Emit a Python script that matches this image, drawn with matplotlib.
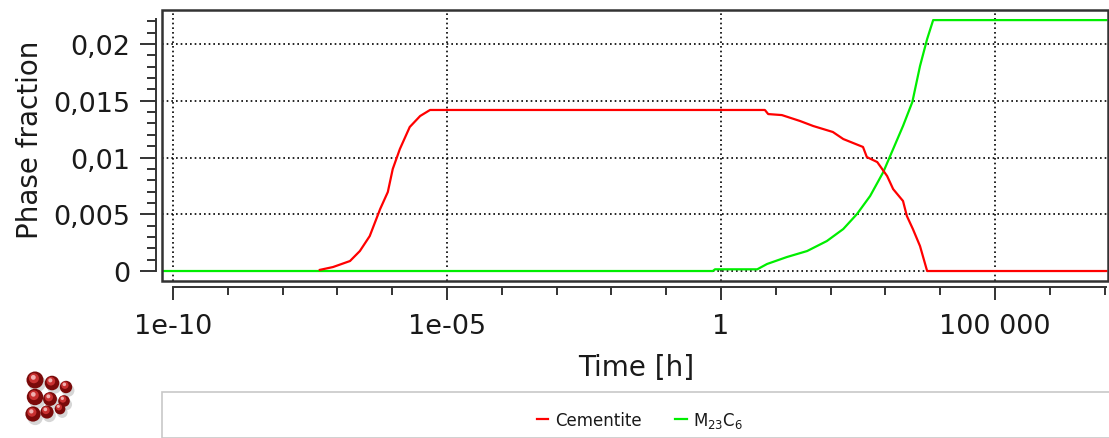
import numpy as np
import matplotlib
matplotlib.use("Agg")
import matplotlib.pyplot as plt
from matplotlib.patches import Rectangle
from matplotlib.lines import Line2D
from matplotlib.ticker import FixedLocator, FixedFormatter

# ---- data (log10 of time in hours, phase fraction) ----
cem_logt = [-7.32, -7.08, -6.77, -6.59, -6.41, -6.22, -6.08, -5.99, -5.86, -5.68,
            -5.49, -5.31, 0.80, 0.86, 1.11, 1.44, 1.68, 2.04, 2.23, 2.59, 2.66,
            2.85, 3.03, 3.14, 3.32, 3.39, 3.50, 3.63, 3.76, 7.03]
cem_frac = [0.0001, 0.00035, 0.00088, 0.00176, 0.00308, 0.00546, 0.00696, 0.00899,
            0.01075, 0.01269, 0.01366, 0.01419, 0.01419, 0.01383, 0.01374, 0.01322,
            0.01278, 0.01225, 0.01163, 0.01093, 0.01004, 0.00960, 0.00837, 0.00722,
            0.00617, 0.00485, 0.00370, 0.00220, 0.0, 0.0]

m23_logt = [-10.2, -0.15, -0.11, 0.66, 0.84, 1.20, 1.57, 1.93, 2.23, 2.48, 2.72,
            2.96, 3.14, 3.32, 3.49, 3.63, 3.76, 3.87, 7.03]
m23_frac = [0.0, 0.0, 0.00015, 0.00015, 0.00062, 0.00123, 0.00176, 0.00264, 0.00370,
            0.00502, 0.00661, 0.00872, 0.01075, 0.01278, 0.01489, 0.01806, 0.02044,
            0.02211, 0.02211]

y_ticks = [0, 0.005, 0.01, 0.015, 0.02]
y_tick_labels = ["0", "0,005", "0,01", "0,015", "0,02"]
x_ticks = [1e-10, 1e-5, 1, 1e5]
x_tick_labels = ["1e-10", "1e-05", "1", "100 000"]
series_names = ["Cementite", "M$_{23}$C$_6$"]

RED = "#ff0000"
GREEN = "#00ee00"
TXT = "#1a1a1a"

plt.rcParams['font.family'] = ['DejaVu Sans']

fig = plt.figure(figsize=(11.09, 4.39), dpi=100)
W, H = 1109, 439
L, R, T, B = 162, 1108, 11, 282
ax = fig.add_axes([L / W, 1 - B / H, (R - L) / W, (B - T) / H])

t_c = 10 ** np.array(cem_logt)
t_m = 10 ** np.array(m23_logt)
ax.plot(t_m, m23_frac, color=GREEN, lw=1.6, zorder=3)
ax.plot(t_c, cem_frac, color=RED, lw=1.6, zorder=4)

ax.set_xscale('log')
ax.set_xlim(10 ** -10.2, 10 ** 7.06)
ax.set_ylim(-0.00088, 0.0230)

# grid
for yv in y_ticks:
    ax.axhline(yv, color='black', lw=1.2, ls=(0, (1, 1.8)), zorder=1)
for xv in x_ticks:
    ax.axvline(xv, color='black', lw=1.2, ls=(0, (1, 1.8)), zorder=1)

# box
ax.add_patch(Rectangle((0, 0), 1, 1, transform=ax.transAxes, fill=False,
                       ec='#333333', lw=1.8, clip_on=False, zorder=5))

for s in ['top', 'right']:
    ax.spines[s].set_visible(False)
for s in ['left', 'bottom']:
    ax.spines[s].set_position(('outward', 4.3))
    ax.spines[s].set_color('#333333')
    ax.spines[s].set_linewidth(1.4)
ax.spines['left'].set_bounds(0, 0.0222)
ax.spines['bottom'].set_bounds(1e-10, 10 ** 7.03)

ax.yaxis.set_major_locator(FixedLocator(y_ticks))
ax.yaxis.set_major_formatter(FixedFormatter(y_tick_labels))
ax.yaxis.set_minor_locator(FixedLocator(np.arange(0, 0.0225, 0.001)))
ax.xaxis.set_major_locator(FixedLocator(x_ticks))
ax.xaxis.set_major_formatter(FixedFormatter(x_tick_labels))
ax.xaxis.set_minor_locator(FixedLocator([10.0 ** k for k in range(-10, 8)]))
ax.xaxis.set_minor_formatter(FixedFormatter([""] * 18))

ax.tick_params(axis='y', which='major', length=11.5, width=1.4, color='#333333',
               labelsize=19.5, labelcolor=TXT, pad=7)
ax.tick_params(axis='y', which='minor', length=6.5, width=1.4, color='#333333')
ax.tick_params(axis='x', which='major', length=9, width=1.4, color='#333333',
               labelsize=19.5, labelcolor=TXT, pad=10)
ax.tick_params(axis='x', which='minor', length=5.5, width=1.4, color='#333333')

fig.text(30 / W, 1 - 140 / H, "Phase fraction", rotation=90, fontsize=20,
         color=TXT, ha='center', va='center')
fig.text(636 / W, 1 - 368 / H, "Time [h]", fontsize=20, color=TXT,
         ha='center', va='center')

# legend box
fig.patches.append(Rectangle((162 / W, 0), (W - 162) / W + 0.01, (H - 393) / H,
                             transform=fig.transFigure, fill=True, fc='white',
                             ec='#c8c8c8', lw=1.2))
handles = [Line2D([], [], color=RED, lw=1.6), Line2D([], [], color=GREEN, lw=1.6)]
fig.legend(handles, series_names, loc='center', bbox_to_anchor=(640 / W, 1 - 421 / H),
           ncol=2, frameon=False, fontsize=12, handlelength=0.7, handletextpad=0.4,
           columnspacing=2.0, labelcolor=TXT)

# logo
lx = [35, 52, 66, 35, 50, 64, 33, 47, 60]
ly = [381, 384, 388, 398, 400, 402, 415, 413, 410]
ls_ = [150, 110, 80, 140, 100, 70, 120, 90, 60]
fx = np.array(lx) / W
fy = 1 - np.array(ly) / H
lax = fig.add_axes([0, 0, 1, 1], facecolor='none')
lax.set_xlim(0, 1); lax.set_ylim(0, 1); lax.axis('off')
lax.scatter(fx + 0.002, fy - 0.008, s=ls_, color='#bbbbbb', alpha=0.6, lw=0)
lax.scatter(fx, fy, s=ls_, color='#7a0a0a', lw=0)
lax.scatter(fx - 0.001, fy + 0.004, s=np.array(ls_) * 0.35, color='#c83030', lw=0)
lax.scatter(fx - 0.0015, fy + 0.006, s=np.array(ls_) * 0.08, color='#f0b0b0', lw=0)

fig.savefig("out.png", dpi=100)
